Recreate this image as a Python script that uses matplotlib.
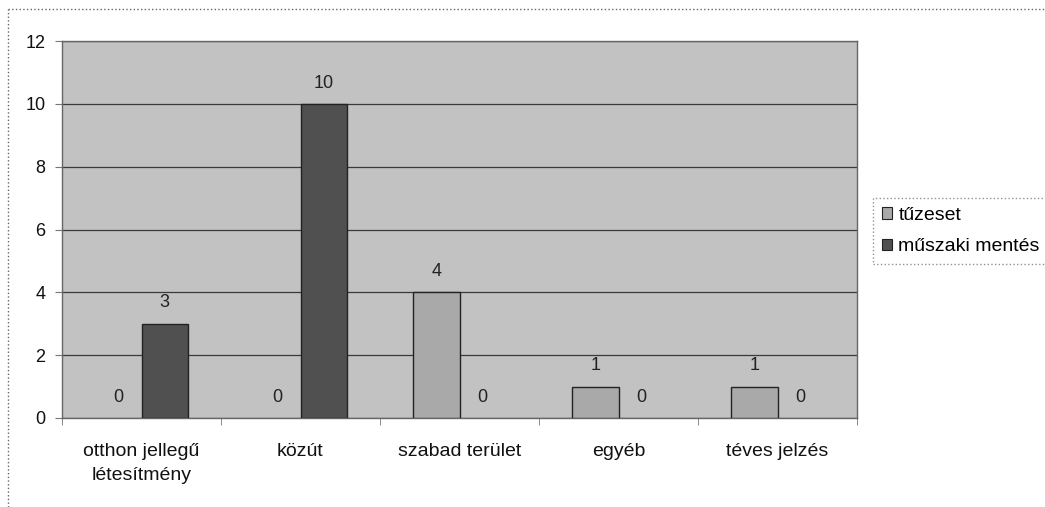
import matplotlib.pyplot as plt
import numpy as np
from matplotlib.lines import Line2D

plt.rcParams['font.family'] = ['Liberation Sans', 'DejaVu Sans']

# chart data
categories = ["otthon jellegű\nlétesítmény", "közút", "szabad terület", "egyéb", "téves jelzés"]
series_names = ["tűzeset", "műszaki mentés"]
tuzeset = [0, 0, 4, 1, 1]
muszaki = [3, 10, 0, 0, 0]

fig = plt.figure(figsize=(10.45, 5.07), dpi=100)
ax = fig.add_axes([62 / 1045, 1 - 418 / 507, 795 / 1045, 377 / 507])
ax.set_facecolor('#c2c2c2')

x = np.arange(len(categories))
w = 0.29
b1 = ax.bar(x - w / 2, tuzeset, w, color='#a9a9a9', edgecolor='#222222', zorder=3,
            linewidth=[1 if v else 0 for v in tuzeset], label=series_names[0])
b2 = ax.bar(x + w / 2, muszaki, w, color='#505050', edgecolor='#222222', zorder=3,
            linewidth=[1 if v else 0 for v in muszaki], label=series_names[1])

# value labels above each bar
for bars, vals in [(b1, tuzeset), (b2, muszaki)]:
    for bar, v in zip(bars, vals):
        ax.annotate(str(v), (bar.get_x() + bar.get_width() / 2, v),
                    xytext=(0, 15), textcoords='offset points',
                    ha='center', va='center', fontsize=13, color='#222222', zorder=4)

ax.set_xlim(-0.5, len(categories) - 0.5)
ax.set_ylim(0, 12)
ax.set_yticks(np.arange(0, 13, 2))
ax.yaxis.grid(True, color='#3a3a3a', linewidth=0.9, zorder=1)
ax.set_axisbelow(True)

ax.set_xticks(x)
ax.set_xticklabels(categories, fontsize=14, color='#111111', linespacing=1.5)
ax.set_xticks(np.arange(-0.5, len(categories)), minor=True)
ax.tick_params(axis='x', which='major', length=0, pad=18)
ax.tick_params(axis='x', which='minor', length=5, color='#777777')
ax.tick_params(axis='y', length=5, color='#777777', labelsize=13, labelcolor='#111111', pad=7)

for s in ax.spines.values():
    s.set_color('#666666')
    s.set_linewidth(1)

leg = fig.legend(handles=[b1, b2], loc='upper left',
                 bbox_to_anchor=(873 / 1045, 1 - 198 / 507),
                 fontsize=14, frameon=True, fancybox=False,
                 handlelength=0.55, handleheight=0.55, handletextpad=0.3,
                 borderpad=0.45, labelspacing=0.75, borderaxespad=0)
leg.get_frame().set_edgecolor('#777777')
leg.get_frame().set_linestyle(':')
leg.get_frame().set_linewidth(1)
for h in leg.legend_handles:
    h.set_linewidth(0.8)

# dotted outer chart border (top and left visible)
fig.add_artist(Line2D([8 / 1045, 1], [1 - 9 / 507, 1 - 9 / 507], transform=fig.transFigure,
                      color='#666666', linestyle=':', linewidth=1))
fig.add_artist(Line2D([8 / 1045, 8 / 1045], [0, 1 - 9 / 507], transform=fig.transFigure,
                      color='#666666', linestyle=':', linewidth=1))

fig.savefig('out.png', dpi=100)
